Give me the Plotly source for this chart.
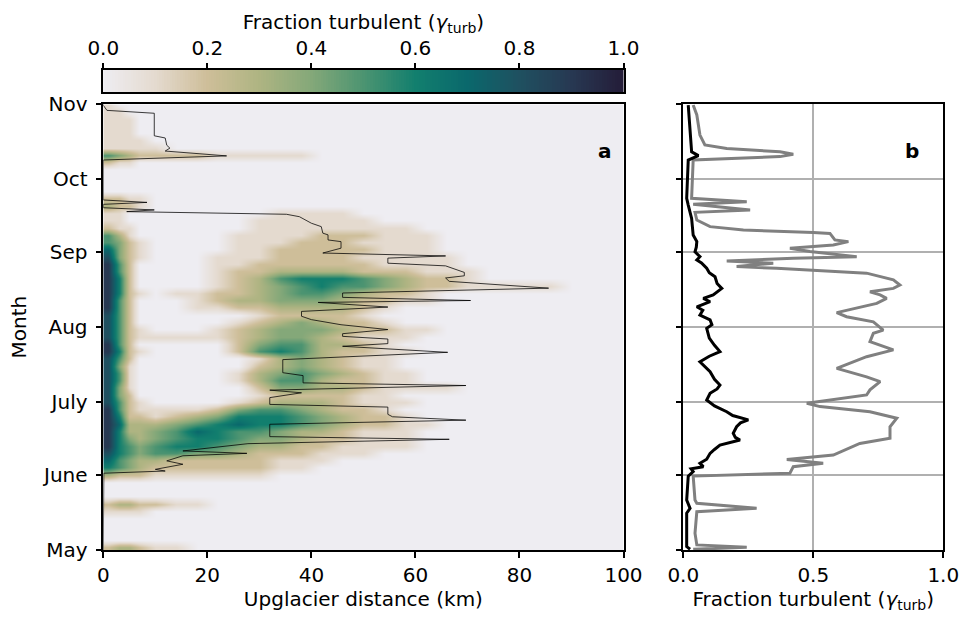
import plotly.graph_objects as go

# ---------------- data ----------------
month_days = [0, 31, 61, 92, 123, 153, 184]
month_labels = ["May", "June", "July", "Aug", "Sep", "Oct", "Nov"]

# heat-map grid (km along glacier, day since 1 May); values in tenths of gamma_turb
grid_km = [1, 3, 5, 7, 10, 14, 18, 22, 26, 30, 34, 38, 42, 46, 50, 54, 58, 62,
           66, 70, 74, 78, 82, 86, 90, 94, 98]
grid_day = [1, 4, 7, 10, 13, 16, 19, 22, 25, 28, 31, 34, 37, 40, 43, 46, 49, 52,
            55, 58, 61, 64, 67, 70, 73, 76, 79, 82, 85, 88, 91, 94, 97, 100, 103,
            106, 109, 112, 115, 118, 121, 124, 127, 130, 133, 136, 139, 142, 145,
            148, 151, 154, 157, 160, 163, 166, 169, 172, 175, 178, 181, 184]
turb_rows = [
    "233211", "", "", "", "", "1111", "2332211", "", "", "",
    "3222111111",
    "654322222211",
    "7543322222111",
    "865455443222111",
    "96545665433221111",
    "96434566544322111",
    "96334576554332111",
    "973334567665432211",
    "96221234666543221",
    "9521111245543221",
    "85210000123332111",
    "8420000001222211",
    "8410000002443321111",
    "85100000135532211",
    "85100000134543211",
    "8410000002343211",
    "8520000001343211",
    "96210000256532211",
    "9520000024553321",
    "85211111234432111",
    "852100012344432211",
    "8520000012343221",
    "852000000122221",
    "9520001122333321",
    "952000123344432211",
    "962101122345543221",
    "962000012345655432211111",
    "96200001235666543221",
    "95200001223333222111",
    "9520000112222221111",
    "8421000111222211111",
    "742100001122222111",
    "542100001112221111",
    "531000001111222111",
    "21100000011111111",
    "110000000111111",
    "11000000001111",
    "3221", "2211", "", "", "", "",
    "211",
    "543222211111",
    "11111", "1111", "111", "111", "111", "11", "1",
]

# extent of turbulent region (thin black line, panel a)
boundary_day = [0, 30.9, 31.7, 32.6, 33.3, 35.4, 36.8, 38.9, 39.9, 40.9, 43.9, 45.7,
                46.8, 51.9, 53.6, 55.0, 56.0, 59.0, 60.1, 62.9, 64.9, 66.0, 67.9,
                69.0, 72.0, 73.2, 78.6, 81.6, 84.1, 85.2, 87.1, 88.2, 89.3, 91.0,
                93.0, 95.1, 96.5, 98.5, 100.3, 102.2, 103.0, 104.3, 106.1, 108.1,
                110.9, 112.3, 113.2, 114.6, 117.3, 118.4, 120.5, 121.4, 122.6,
                124.6, 127.3, 128.0, 130.1, 130.8, 133.5, 134.9, 137.6, 138.6,
                139.7, 140.4, 141.3, 142.7, 143.5, 144.5, 161.0, 162.7, 164.7,
                165.9, 167.1, 170.1, 171.0, 180.3, 181.5, 183.6, 184]
boundary_km = [0, 0, 0.1, 11.9, 10.0, 15.3, 12.2, 15.3, 27.6, 15.3, 27.8, 66.5,
               32.0, 32.0, 69.7, 55.6, 54.7, 54.7, 32.0, 32.0, 38.1, 32.0, 69.7,
               38.4, 38.4, 34.5, 34.5, 66.2, 46.0, 54.7, 54.7, 46.0, 46.0, 54.7,
               45.7, 40.0, 38.1, 38.1, 54.7, 41.3, 70.6, 46.0, 46.0, 85.6,
               66.5, 65.8, 69.4, 69.4, 65.8, 54.7, 54.7, 65.8, 42.2,
               45.7, 45.7, 43.2, 43.2, 42.2, 41.9, 40.0, 37.7, 35.2,
               4.5, 9.8, 0, 0, 8.4, 0, 0, 23.7, 11.9,
               12.8, 12.2, 11.9, 9.8, 9.8, 0.7, 0, 0]

# panel b: fraction turbulent, whole domain (black) and within extent (grey)
all_day = [0.3, 1.4, 15.2, 17.2, 20.6, 30.5, 32.4, 33.5, 34.4, 35.8, 37.5, 39.9,
           41.5, 43.3, 45.4, 46.5, 48.2, 50.9, 52.5, 53.7, 55.5, 57.1, 59.5, 61.9,
           64.7, 66.5, 68.1, 70.5, 73.6, 75.5, 77.7, 80.0, 81.9, 84.5, 87.5, 91.5,
           93.0, 95.0, 97.0, 99.0, 100.4, 102.5, 103.9, 105.3, 106.5, 108.0,
           110.0, 112.8, 114.5, 116.3, 118.5, 119.7, 121.1, 123.1, 125.0, 127.3,
           130.0, 133.5, 136.9, 142.4, 145.2, 161.0, 162.8, 164.4, 174.1, 183.7]
all_frac = [0.026, 0.013, 0.013, 0.026, 0.013, 0.019, 0.038, 0.03, 0.077, 0.064,
            0.09, 0.103, 0.12, 0.141, 0.218, 0.2, 0.192, 0.205, 0.22, 0.25, 0.19,
            0.167, 0.12, 0.09, 0.103, 0.13, 0.141, 0.12, 0.103, 0.085, 0.064, 0.1,
            0.141, 0.12, 0.1, 0.09, 0.11, 0.103, 0.064, 0.075, 0.052, 0.103,
            0.077, 0.115, 0.13, 0.148, 0.13, 0.122, 0.1, 0.09, 0.07, 0.052,
            0.064, 0.045, 0.05, 0.052, 0.038, 0.036, 0.032, 0.019, 0.013, 0.019,
            0.058, 0.032, 0.026, 0.019]

active_day = [0.3, 1.1, 2.1, 6.9, 15.8, 17.2, 19.3, 20.6, 30.5, 31.7, 34.4, 35.8,
              37.4, 39.2, 44.0, 46.1, 50.9, 54.4, 57.1, 59.2, 60.6, 64.0, 66.1,
              69.5, 71.5, 75.0, 79.8, 82.6, 86.0, 89.5, 90.8, 94.2, 96.3, 98.0,
              101.8, 103.9, 105.3, 106.6, 108.0, 109.4, 111.5, 114.3, 116.3,
              117.0, 118.4, 119.3, 120.4, 121.1, 123.2, 124.6, 125.9, 127.3,
              128.0, 130.7, 131.1, 132.1, 133.5, 136.2, 139.4, 140.4, 142.7,
              143.8, 145.2, 161.0, 162.4, 163.4, 164.4, 165.8, 167.2, 171.3,
              179.6, 183.7]
active_frac = [0.038, 0.244, 0.052, 0.045, 0.052, 0.282, 0.052, 0.045, 0.038, 0.41,
               0.423, 0.538, 0.398, 0.577, 0.679, 0.795, 0.795, 0.821, 0.718,
               0.526, 0.475, 0.705, 0.718, 0.757, 0.705, 0.59, 0.705, 0.808,
               0.718, 0.731, 0.769, 0.731, 0.628, 0.59, 0.744, 0.782, 0.757,
               0.718, 0.808, 0.833, 0.808, 0.705, 0.359, 0.205, 0.346, 0.167,
               0.423, 0.667, 0.487, 0.41, 0.577, 0.635, 0.583, 0.564, 0.5,
               0.231, 0.103, 0.052, 0.045, 0.257, 0.038, 0.244, 0.032, 0.038,
               0.372, 0.423, 0.372, 0.167, 0.083, 0.064, 0.052, 0.038]

cbar_ticks = [0.0, 0.2, 0.4, 0.6, 0.8, 1.0]
cbar_levels = [i / 200 for i in range(201)]

# ---------------- styling ----------------
rain = [
    [0.0, "rgb(238,237,242)"], [0.1, "rgb(228,218,207)"], [0.2, "rgb(206,190,153)"],
    [0.3, "rgb(174,180,130)"], [0.4, "rgb(132,168,121)"], [0.5, "rgb(76,148,113)"],
    [0.6, "rgb(18,127,110)"], [0.7, "rgb(10,104,108)"], [0.8, "rgb(31,80,96)"],
    [0.9, "rgb(39,56,82)"], [1.0, "rgb(36,28,56)"],
]
FONT = "DejaVu Sans"
FS = 20
W, H = 964, 625

def px(x0, x1):
    return [x0 / W, x1 / W]

def py(top, bottom):
    return [1 - bottom / H, 1 - top / H]

z = [[int(c) / 10 for c in row.ljust(len(grid_km), "0")] for row in turb_rows]

fig = go.Figure()
fig.add_trace(go.Heatmap(x=grid_km, y=grid_day, z=z, colorscale=rain, zmin=0, zmax=1,
                         zsmooth="best", showscale=False, xaxis="x", yaxis="y",
                         hoverinfo="skip"))
fig.add_trace(go.Scatter(x=boundary_km, y=boundary_day, mode="lines",
                         line=dict(color="rgba(0,0,0,0.85)", width=0.9),
                         xaxis="x", yaxis="y", showlegend=False))
fig.add_trace(go.Scatter(x=active_frac, y=active_day, mode="lines",
                         line=dict(color="#808080", width=3),
                         xaxis="x2", yaxis="y2", showlegend=False))
fig.add_trace(go.Scatter(x=all_frac, y=all_day, mode="lines",
                         line=dict(color="black", width=3),
                         xaxis="x2", yaxis="y2", showlegend=False))
fig.add_trace(go.Heatmap(x=cbar_levels, y=[0], z=[cbar_levels], colorscale=rain,
                         zmin=0, zmax=1, showscale=False, xaxis="x3", yaxis="y3",
                         hoverinfo="skip"))

axis_common = dict(showline=True, linecolor="black", linewidth=1.5, mirror=True,
                   ticks="outside", ticklen=6, tickwidth=1.5, tickcolor="black",
                   zeroline=False, automargin=False,
                   tickfont=dict(family=FONT, size=FS, color="black"))

fig.update_layout(
    width=W, height=H, margin=dict(l=0, r=0, t=0, b=0),
    paper_bgcolor="white", plot_bgcolor="white", showlegend=False,
    font=dict(family=FONT, size=FS, color="black"),
    xaxis=dict(domain=px(103.3, 623.5), anchor="y", range=[0, 100],
               tickvals=[0, 20, 40, 60, 80, 100], showgrid=False,
               title=dict(text="Upglacier distance (km)", standoff=6,
                          font=dict(family=FONT, size=FS)), **axis_common),
    yaxis=dict(domain=py(104.3, 550), anchor="x", range=[0, 184],
               tickvals=month_days, ticktext=month_labels, showgrid=False,
               ticklabelstandoff=4,
               title=dict(text="Month", standoff=10, font=dict(family=FONT, size=FS)),
               **axis_common),
    xaxis2=dict(domain=px(683.3, 943.3), anchor="y2", range=[0, 1],
                tickvals=[0, 0.5, 1], ticktext=["0.0", "0.5", "1.0"],
                showgrid=True, gridcolor="#b0b0b0", gridwidth=1.5,
                title=dict(text="Fraction turbulent (<i>γ</i><sub>turb</sub>)", standoff=6,
                           font=dict(family=FONT, size=FS)), **axis_common),
    yaxis2=dict(domain=py(104.3, 550), anchor="x2", range=[0, 184],
                tickvals=month_days, showticklabels=False,
                showgrid=True, gridcolor="#b0b0b0", gridwidth=1.5, **axis_common),
    xaxis3=dict(domain=px(103.3, 623.5), anchor="y3", side="top", range=[0, 1],
                tickvals=cbar_ticks, ticktext=["%.1f" % t for t in cbar_ticks],
                showgrid=False,
                title=dict(text="Fraction turbulent (<i>γ</i><sub>turb</sub>)", standoff=0,
                           font=dict(family=FONT, size=FS)),
                **{**axis_common, "ticklen": 5}),
    yaxis3=dict(domain=py(70, 92), anchor="x3", range=[-0.5, 0.5], showline=True,
                linecolor="black", linewidth=1.5, mirror=True, ticks="",
                showticklabels=False, showgrid=False, zeroline=False, automargin=False),
    annotations=[
        dict(text="<b>a</b>", x=605 / W, y=1 - 137 / H, xref="paper", yref="paper",
             showarrow=False, font=dict(family=FONT, size=20, color="black")),
        dict(text="<b>b</b>", x=921 / W, y=1 - 137 / H, xref="paper", yref="paper",
             showarrow=False, font=dict(family=FONT, size=20, color="black")),
    ],
)

fig.write_html("out.html")
